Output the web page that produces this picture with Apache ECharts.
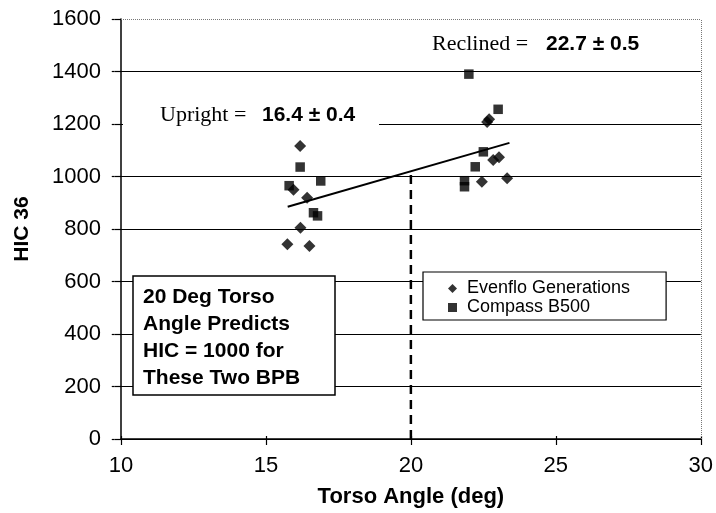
<!DOCTYPE html>
<html><head><meta charset="utf-8">
<script src="https://cdn.jsdelivr.net/npm/echarts@6/dist/echarts.min.js"></script>
<style>html,body{margin:0;padding:0;background:#fff}#c{width:716px;height:513px}</style>
</head><body><div id="c"></div>
<script>
// Evenflo Generations (diamonds): [torso angle, HIC36]
const evenflo = [[16.18,1116],[15.95,950],[16.42,919],[16.19,805],[15.74,742],[16.5,735],
                 [22.7,1218],[22.63,1208],[22.84,1063],[23.04,1073],[22.45,980],[23.32,993]];
// Compass B500 (squares)
const compass = [[16.18,1036],[15.8,965],[16.89,983],[16.64,862],[16.78,850],
                 [22.0,1390],[23.01,1256],[22.5,1094],[22.22,1037],[21.85,984],[21.85,961]];
// regression line endpoints
const fitLine = [[15.75,885],[23.4,1128]];
// dashed prediction line at 20 deg
const dropLine = [[20,0],[20,1013]];
const xTicks = [10,15,20,25,30];
const yTicks = [0,200,400,600,800,1000,1200,1400,1600];
const seriesNames = ['Evenflo Generations','Compass B500'];

const chart = echarts.init(document.getElementById('c'));
const labelFont = {fontFamily:'Liberation Sans, Arial, sans-serif', fontSize:22, color:'#000'};
chart.setOption({
  animation:false,
  backgroundColor:'#fff',
  grid:{left:121, right:6, top:19, bottom:74},
  xAxis:[{
    type:'value', min:xTicks[0], max:xTicks[xTicks.length-1], interval:5,
    axisLine:{lineStyle:{color:'#000',width:1.5}},
    axisTick:{length:6,lineStyle:{color:'#000',width:1.2}},
    axisLabel:Object.assign({margin:16, formatter:v=>String(v)},labelFont),
    splitLine:{show:false},
    name:'Torso Angle (deg)', nameLocation:'middle', nameGap:47,
    nameTextStyle:{fontFamily:'Liberation Sans, Arial, sans-serif',fontSize:22,fontWeight:'bold',color:'#000'}
  },{
    type:'value', min:10, max:30, interval:5, position:'top', offset:-420,
    axisLine:{show:false}, axisTick:{length:3,lineStyle:{color:'#000',width:1.2}},
    axisLabel:{show:false}, splitLine:{show:false}
  }],
  yAxis:[{
    type:'value', min:yTicks[0], max:yTicks[yTicks.length-1], interval:200,
    axisLine:{show:true,lineStyle:{color:'#000',width:1.5}},
    axisTick:{show:true,length:6,lineStyle:{color:'#000',width:1.2}},
    axisLabel:Object.assign({margin:20, formatter:v=>String(v)},labelFont),
    splitLine:{show:true,showMaxLine:false,lineStyle:{color:'#000',width:1.2}},
    name:'HIC 36', nameLocation:'middle', nameGap:88, nameRotate:90,
    nameTextStyle:{fontFamily:'Liberation Sans, Arial, sans-serif',fontSize:21,fontWeight:'bold',color:'#000'}
  },{
    type:'value', min:0, max:1600, interval:200, position:'right', offset:-589,
    axisLine:{show:false}, axisTick:{show:true,length:3,lineStyle:{color:'#000',width:1.2}},
    axisLabel:{show:false}, splitLine:{show:false}
  }],
  legend:{
    orient:'vertical', left:423, top:272,
    data:[{name:seriesNames[0],icon:'diamond'},{name:seriesNames[1],icon:'rect'}],
    itemWidth:9, itemHeight:9, itemGap:0,
    padding:[7,36,3,25],
    backgroundColor:'#fff', borderColor:'#000', borderWidth:1.2,
    textStyle:{fontFamily:'Liberation Sans, Arial, sans-serif',fontSize:18,lineHeight:19,color:'#000',padding:[0,0,0,5]},
    z:20
  },
  series:[
    {name:'dotted-frame', type:'line', data:[], silent:true,
     markLine:{silent:true, symbol:'none', label:{show:false},
       lineStyle:{color:'#777',type:'dotted',width:1},
       data:[{yAxis:1600},{xAxis:30}]}},
    {name:'drop', type:'line', data:dropLine, symbol:'none', silent:true,
     lineStyle:{color:'#000',width:2.5,type:[9,6]}, z:3},
    {name:'fit', type:'line', data:fitLine, symbol:'none', silent:true,
     lineStyle:{color:'#000',width:2}, z:3},
    {name:seriesNames[0], type:'scatter', data:evenflo, symbol:'diamond', symbolSize:12,
     itemStyle:{color:'#000'}, z:5},
    {name:seriesNames[1], type:'scatter', data:compass, symbol:'rect', symbolSize:9.5,
     itemStyle:{color:'#000'}, z:5}
  ],
  graphic:[
    {type:'rect', z:10, shape:{x:123, y:104, width:256, height:30}, style:{fill:'#fff'}},
    {type:'text', z:11, left:160, top:104, style:{text:'Upright =', font:'22px "Liberation Serif", "Times New Roman", serif', fill:'#000'}},
    {type:'text', z:11, left:262, top:105, style:{text:'16.4 ± 0.4', font:'bold 21px "Liberation Sans", Arial, sans-serif', fill:'#000'}},
    {type:'text', z:11, left:432, top:33, style:{text:'Reclined =', font:'22px "Liberation Serif", "Times New Roman", serif', fill:'#000'}},
    {type:'text', z:11, left:546, top:34, style:{text:'22.7 ± 0.5', font:'bold 21px "Liberation Sans", Arial, sans-serif', fill:'#000'}},
    {type:'rect', z:10, shape:{x:133, y:276, width:202, height:119}, style:{fill:'#fff', stroke:'#000', lineWidth:1.5}},
    {type:'text', z:11, left:143, top:284, style:{text:'20 Deg Torso\nAngle Predicts\nHIC = 1000 for\nThese Two BPB', font:'bold 21px "Liberation Sans", Arial, sans-serif', lineHeight:27, fill:'#000'}}
  ]
});
</script></body></html>
